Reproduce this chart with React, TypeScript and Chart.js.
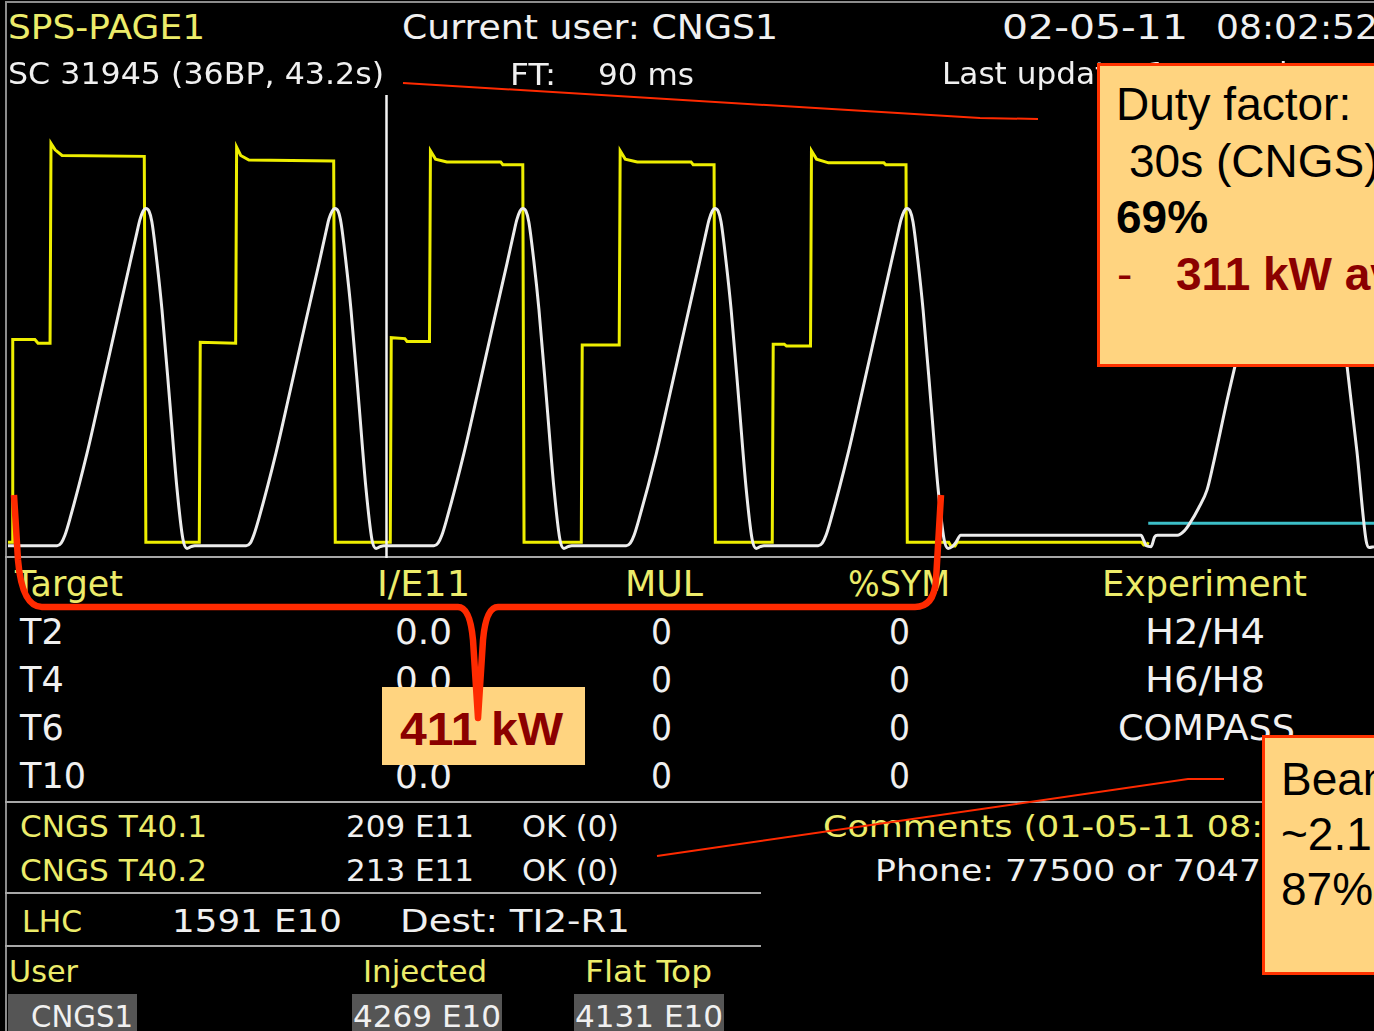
import React, { useEffect, useRef } from "react";
import { Chart, registerables } from "chart.js";

Chart.register(...registerables);

// ---- time axis (seconds of the 43.2 s supercycle) and value ranges ----
const timeRange = [0, 43.2];
const momentumRange = [0, 530]; // GeV (white trace)
const intensityRange = [-17, 481]; // E11 protons (yellow / cyan traces)

// ---- white trace: magnet momentum, GeV, [t, p] ----
const whiteStart = [[0, 14]];
const whiteCycle1 = [[1.55,14],[1.68,17],[1.80,26],[1.96,45],[2.50,120],[2.91,185],[3.45,272],[3.86,338],[4.08,373],[4.17,387],[4.27,397],[4.36,400],[4.46,397],[4.55,385],[4.71,339],[4.87,284],[5.12,177],[5.34,81],[5.53,22],[5.66,11],[5.79,13],[5.91,14]];
const whiteCycle2 = [[7.53,14],[7.66,17],[7.78,27],[7.94,46],[8.48,121],[8.89,186],[9.43,273],[9.84,338],[10.06,374],[10.15,388],[10.25,397],[10.34,400],[10.44,397],[10.53,384],[10.69,338],[10.85,283],[11.10,176],[11.32,80],[11.51,21],[11.64,11],[11.77,13],[11.89,14]];
const whiteCycle3 = [[13.47,14],[13.60,17],[13.72,26],[13.88,45],[14.42,120],[14.83,185],[15.37,272],[15.78,337],[16.00,373],[16.09,387],[16.19,397],[16.28,400],[16.38,397],[16.47,385],[16.63,340],[16.79,285],[17.04,178],[17.26,82],[17.45,22],[17.58,11],[17.71,13],[17.83,14]];
const whiteCycle4 = [[19.55,14],[19.68,17],[19.80,26],[19.96,45],[20.50,119],[20.91,184],[21.45,271],[21.86,337],[22.08,373],[22.17,387],[22.27,397],[22.36,400],[22.46,397],[22.55,385],[22.71,339],[22.87,284],[23.12,177],[23.34,81],[23.53,22],[23.66,11],[23.79,13],[23.91,14]];
const whiteCycle5 = [[25.62,14],[25.75,17],[25.87,26],[26.03,45],[26.57,120],[26.98,185],[27.52,272],[27.93,338],[28.15,373],[28.24,387],[28.34,397],[28.43,400],[28.53,397],[28.62,385],[28.78,339],[28.94,284],[29.19,177],[29.41,81],[29.60,22],[29.73,11]];
const whiteLhc = [[29.86,13],[29.98,18],[30.13,26],[35.83,26],[35.92,20],[36.00,14],[36.15,13],[36.26,24],[36.35,26],[36.98,26],[37.20,31],[37.38,40],[37.65,57],[37.92,78],[38.12,108],[38.33,143],[38.55,180],[38.80,219],[39.50,330],[40.10,430],[40.35,450],[41.60,450],[41.75,420],[42.35,219],[42.66,122],[42.95,20],[43.05,12],[43.20,13]];

// ---- yellow trace: beam intensity, E11, [t, I] ----
const yellowCycle1 = [[0,0],[0.13,0],[0.15,218],[0.85,218],[0.95,214],[1.33,214],[1.36,429],[1.49,422],[1.71,416],[4.31,415],[4.36,0]];
const yellowCycle2 = [[6.05,0],[6.08,215],[7.20,214],[7.23,425],[7.36,416],[7.62,411],[10.30,410],[10.35,0]];
const yellowCycle3 = [[12.09,0],[12.12,220],[12.55,219],[12.62,216],[13.33,216],[13.36,421],[13.52,412],[13.88,409],[15.58,409],[15.65,406],[16.28,406],[16.32,0]];
const yellowCycle4 = [[18.13,0],[18.16,212],[19.33,212],[19.36,421],[19.52,412],[19.90,409],[21.60,409],[21.67,406],[22.33,406],[22.37,0]];
const yellowCycle5 = [[24.17,0],[24.20,213],[24.55,213],[24.62,211],[25.38,211],[25.41,421],[25.57,412],[25.95,408],[27.70,408],[27.76,406],[28.40,406],[28.44,0]];
const yellowTail = [[29.75,0],[29.82,-4],[29.95,-4],[30.02,0],[35.85,0],[35.92,-3],[36.02,-3],[36.06,0]];

// ---- cyan trace (LHC cycle) and time cursor ----
const cyanLhc = [[36.06, 20.5],[43.2, 20.5]];
const cursorTime = 11.97;

// ---- table texts ----
const tableHeader = ["Target", "I/E11", "MUL", "%SYM", "Experiment"];
const targets = ["T2", "T4", "T6", "T10"];
const intensities = ["0.0", "0.0", "0.0", "0.0"];
const mulValues = ["0", "0", "0", "0"];
const symValues = ["0", "0", "0", "0"];
const experiments = ["H2/H4", "H6/H8", "COMPASS", ""];
const cngsRows = [["CNGS T40.1", "209 E11", "OK (0)"], ["CNGS T40.2", "213 E11", "OK (0)"]];

const SANS = '"DejaVu Sans", sans-serif';
const ARIAL = '"Liberation Sans", Arial, sans-serif';
const YEL = "#ecec6a";
const WHT = "#f0f0f0";
const DARKRED = "#8b0000";
const BOXFILL = "#ffd480";
const RED = "#ff2a00";

let mctx: CanvasRenderingContext2D | null = null;
function textWidth(text: string, font: string) {
  if (!mctx) mctx = document.createElement("canvas").getContext("2d");
  mctx!.font = font;
  return mctx!.measureText(text).width;
}

function Tx({ x, y, s, t, c = WHT, w, fit, bold, fam = SANS }: any) {
  const font = `${bold ? "bold " : ""}${s}px ${fam}`;
  let k = 1;
  if (w) k = w / textWidth(fit ?? t, font);
  return (
    <span
      style={{
        position: "absolute",
        left: x,
        top: y - 0.846 * s,
        fontFamily: fam,
        fontSize: s,
        fontWeight: bold ? 700 : 400,
        lineHeight: `${s}px`,
        color: c,
        whiteSpace: "pre",
        transform: `scaleX(${k})`,
        transformOrigin: "0 0",
      }}
    >
      {t}
    </span>
  );
}

const pts = (arr: number[][]) => arr.map(([x, y]) => ({ x, y }));

function HLine({ x, y, w }: any) {
  return <div style={{ position: "absolute", left: x, top: y, width: w, height: 2, background: "#a8a8a8" }} />;
}

export default function App() {
  const ref = useRef<HTMLCanvasElement>(null);
  useEffect(() => {
    const white = [...whiteStart, ...whiteCycle1, ...whiteCycle2, ...whiteCycle3, ...whiteCycle4, ...whiteCycle5, ...whiteLhc];
    const yellow = [...yellowCycle1, ...yellowCycle2, ...yellowCycle3, ...yellowCycle4, ...yellowCycle5, ...yellowTail];
    const chart = new Chart(ref.current!, {
      type: "line",
      data: {
        datasets: [
          { label: "Momentum", data: pts(white), yAxisID: "y", borderColor: "#ececec", borderWidth: 3, cubicInterpolationMode: "monotone", pointRadius: 0 },
          { label: "Cursor", data: pts([[cursorTime, momentumRange[0]], [cursorTime, momentumRange[1]]]), yAxisID: "y", borderColor: "#f4f4f4", borderWidth: 2.5, pointRadius: 0 },
          { label: "Intensity", data: pts(yellow), yAxisID: "y2", borderColor: "#eeee00", borderWidth: 3, tension: 0, pointRadius: 0 },
          { label: "LHC", data: pts(cyanLhc), yAxisID: "y2", borderColor: "#3cbfc8", borderWidth: 3, pointRadius: 0 },
        ],
      } as any,
      options: {
        animation: false,
        responsive: false,
        maintainAspectRatio: false,
        layout: { padding: { left: 8, right: 0, top: 5, bottom: 2 } },
        plugins: { legend: { display: false }, tooltip: { enabled: false } },
        events: [],
        scales: {
          x: { type: "linear", min: timeRange[0], max: timeRange[1], display: false },
          y: { type: "linear", min: momentumRange[0], max: momentumRange[1], display: false },
          y2: { type: "linear", min: intensityRange[0], max: intensityRange[1], display: false },
        },
      } as any,
    });
    return () => chart.destroy();
  }, []);

  const rowY = [645, 693, 741, 789];

  return (
    <div style={{ position: "fixed", left: 0, top: 0, width: 1374, height: 1031, background: "#000", overflow: "hidden" }}>
      {/* frame lines */}
      <div style={{ position: "absolute", left: 5, top: 1, width: 1369, height: 2, background: "#8c8c8c" }} />
      <div style={{ position: "absolute", left: 5, top: 1, width: 2, height: 1030, background: "#8c8c8c" }} />
      <HLine x={5} y={556} w={1369} />
      <HLine x={5} y={801} w={1369} />
      <HLine x={5} y={892} w={756} />
      <HLine x={5} y={945} w={756} />

      <canvas ref={ref} width={1374} height={470} style={{ position: "absolute", left: 0, top: 90, width: 1374, height: 470, display: "block" }} />

      {/* header */}
      <Tx x={8} y={39} s={33} t="SPS-PAGE1" c={YEL} w={197} />
      <Tx x={402} y={39} s={34} t="Current user: CNGS1" w={376} />
      <Tx x={1002} y={39} s={34} t="02-05-11" w={186} />
      <Tx x={1216} y={39} s={34} t="08:02:52" w={162} />
      <Tx x={8} y={84} s={30} t="SC 31945 (36BP, 43.2s)" w={376} />
      <Tx x={510} y={85} s={30} t="FT:" w={46} />
      <Tx x={598} y={85} s={30} t="90 ms" w={96} />
      <Tx x={942} y={84} s={31} t="Last update: 1 second ago" fit="Last upda" w={153} />

      {/* target table */}
      <Tx x={15} y={597} s={35} t={tableHeader[0]} c={YEL} w={108} />
      <Tx x={377} y={597} s={35} t={tableHeader[1]} c={YEL} w={93} />
      <Tx x={625} y={597} s={35} t={tableHeader[2]} c={YEL} w={78} />
      <Tx x={848} y={597} s={35} t={tableHeader[3]} c={YEL} w={102} />
      <Tx x={1102} y={597} s={35} t={tableHeader[4]} c={YEL} w={205} />
      {targets.map((t, i) => (
        <React.Fragment key={t}>
          <Tx x={20} y={rowY[i]} s={35} t={t} />
          <Tx x={395} y={rowY[i]} s={35} t={intensities[i]} w={57} />
          <Tx x={651} y={rowY[i]} s={35} t={mulValues[i]} w={21} />
          <Tx x={889} y={rowY[i]} s={35} t={symValues[i]} w={21} />
          {experiments[i] ? (
            <Tx x={experiments[i] === "COMPASS" ? 1118 : 1145} y={rowY[i]} s={35} t={experiments[i]} w={experiments[i] === "COMPASS" ? 177 : 120} />
          ) : null}
        </React.Fragment>
      ))}

      {/* CNGS rows */}
      {cngsRows.map((r, i) => (
        <React.Fragment key={r[0]}>
          <Tx x={20} y={837 + i * 44} s={31} t={r[0]} c={YEL} w={187} />
          <Tx x={346} y={837 + i * 44} s={31} t={r[1]} w={128} />
          <Tx x={522} y={837 + i * 44} s={31} t={r[2]} w={97} />
        </React.Fragment>
      ))}
      <Tx x={823} y={837} s={31} t="Comments (01-05-11 08:30)" c={YEL} fit="Comments (01-05-11 08:" w={440} />
      <Tx x={875} y={881} s={31} t="Phone: 77500 or 70475" w={408} />

      <Tx x={22} y={932} s={31} t="LHC" c={YEL} w={60} />
      <Tx x={172} y={932} s={32} t="1591 E10" w={170} />
      <Tx x={400} y={932} s={32} t="Dest: TI2-R1" w={230} />

      <Tx x={9} y={982} s={31} t="User" c={YEL} w={69} />
      <Tx x={363} y={982} s={31} t="Injected" c={YEL} w={124} />
      <Tx x={585} y={982} s={31} t="Flat Top" c={YEL} w={127} />
      <div style={{ position: "absolute", left: 8, top: 994, width: 129, height: 37, background: "#555" }} />
      <div style={{ position: "absolute", left: 352, top: 994, width: 150, height: 37, background: "#555" }} />
      <div style={{ position: "absolute", left: 574, top: 994, width: 150, height: 37, background: "#555" }} />
      <Tx x={31} y={1027} s={31} t="CNGS1" w={102} />
      <Tx x={353} y={1027} s={31} t="4269 E10" w={148} />
      <Tx x={575} y={1027} s={31} t="4131 E10" w={148} />

      {/* annotation boxes */}
      <div style={{ position: "absolute", left: 1097, top: 63, width: 330, height: 304, background: BOXFILL, border: "3px solid #ff3300", boxSizing: "border-box" }} />
      <Tx x={1116} y={120} s={46} t="Duty factor: " c="#000" fam={ARIAL} />
      <Tx x={1129} y={177} s={46} t="30s (CNGS)" c="#000" fam={ARIAL} />
      <Tx x={1116} y={233} s={46} t="69%" c="#000" fam={ARIAL} bold />
      <Tx x={1117} y={290} s={46} t="-" c={DARKRED} fam={ARIAL} />
      <Tx x={1176} y={290} s={46} t="311 kW average" c={DARKRED} fam={ARIAL} bold />

      <div style={{ position: "absolute", left: 382, top: 687, width: 203, height: 78, background: BOXFILL }} />
      <Tx x={400} y={745} s={46} t="411 kW" c={DARKRED} fam={ARIAL} bold w={163} />

      <div style={{ position: "absolute", left: 1262, top: 735, width: 220, height: 240, background: BOXFILL, border: "3px solid #ff3300", boxSizing: "border-box" }} />
      <Tx x={1281} y={795} s={46} t="Beam power:" c="#000" fam={ARIAL} />
      <Tx x={1281} y={850} s={46} t="~2.1 MW" c="#000" fam={ARIAL} />
      <Tx x={1281} y={905} s={46} t="87%" c="#000" fam={ARIAL} />

      {/* red annotation strokes */}
      <svg width={1374} height={1031} style={{ position: "absolute", left: 0, top: 0, pointerEvents: "none" }}>
        <polyline points="403,83 980,118 1038,119" fill="none" stroke={RED} strokeWidth={2} />
        <polyline points="657,856 1188,779 1224,779" fill="none" stroke={RED} strokeWidth={2} />
        <path
          d="M 14 495 L 18 560 Q 22 607 42 607 L 458 607 Q 470 607 473 640 L 478 718 L 483 640 Q 486 607 498 607 L 915 607 Q 934 607 936 580 L 941 495"
          fill="none"
          stroke={RED}
          strokeWidth={6.5}
          strokeLinejoin="round"
        />
      </svg>
    </div>
  );
}
